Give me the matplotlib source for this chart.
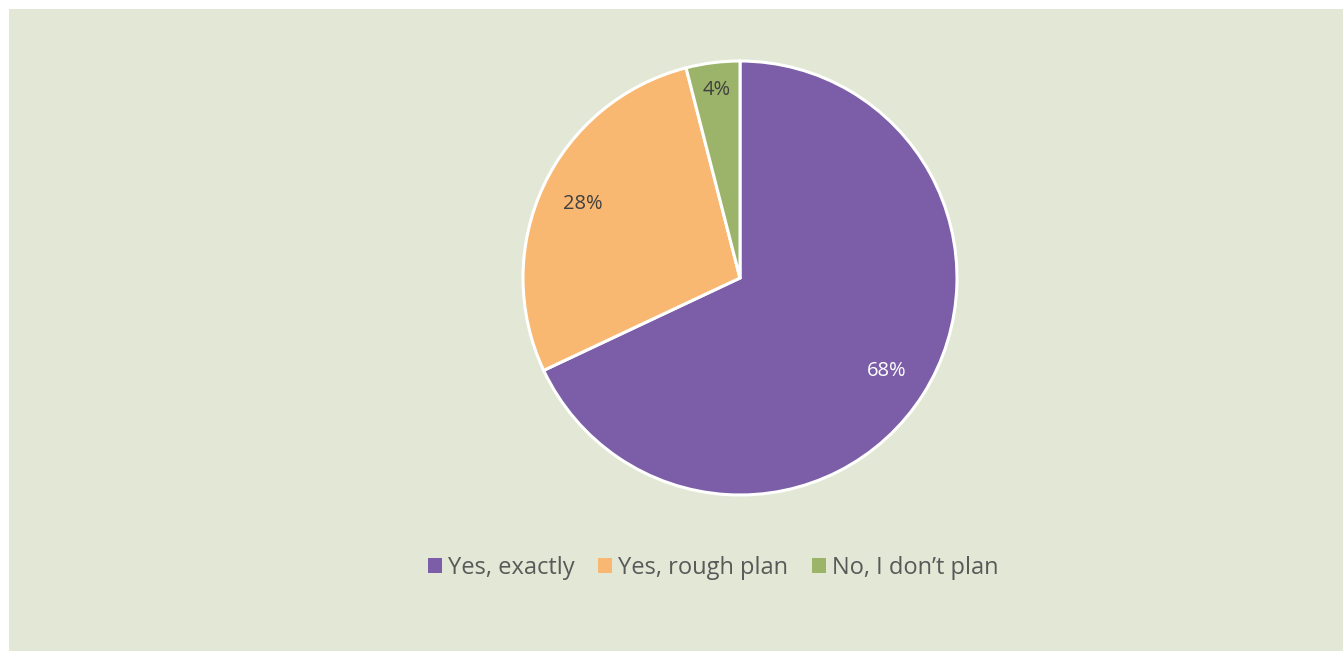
import matplotlib.pyplot as plt
from matplotlib.patches import Rectangle, Patch

# datos del grafico
etiquetas = ["Yes, exactly", "Yes, rough plan", "No, I don\u2019t plan"]
valores = [68, 28, 4]
colores = ["#7B5EA7", "#F9B872", "#9BB46A"]

W, H = 1343, 651
fig = plt.figure(figsize=(W / 100, H / 100), dpi=100, facecolor="white")

# fondo verde con margen blanco arriba y a la izquierda
fig.patches.append(Rectangle((9 / W, 0), 1 - 9 / W, 1 - 9 / H, transform=fig.transFigure,
                             facecolor="#E2E8D5", edgecolor="none", zorder=-10))

cx, cy, r = 740, 278, 217
k = 1.05
ax = fig.add_axes([(cx - r * k) / W, (H - cy - r * k) / H, 2 * r * k / W, 2 * r * k / H])
ax.set_facecolor("none")

wedges, textos, autotextos = ax.pie(valores, colors=colores, startangle=90, counterclock=False,
                                    autopct="%d%%", pctdistance=0.8,
                                    wedgeprops=dict(edgecolor="white", linewidth=2.2),
                                    textprops=dict(fontsize=14.5, color="#404040", family="Open Sans"))
autotextos[0].set_color("white")
# la etiqueta del 4% va un poco mas afuera
x, y = autotextos[2].get_position()
autotextos[2].set_position((x * 1.09, y * 1.09))

ax.set_xlim(-k, k)
ax.set_ylim(-k, k)
ax.set_aspect("equal")
ax.axis("off")

handles = [Patch(facecolor=c, edgecolor="none") for c in colores]
fig.legend(handles, etiquetas, loc="center", bbox_to_anchor=(713 / W, 1 - 568 / H), ncol=3,
           frameon=False, handlelength=0.6, handleheight=0.6, handletextpad=0.25,
           columnspacing=1.0, prop=dict(family="Open Sans", size=17), labelcolor="#595959")

fig.savefig("out.png", dpi=100, facecolor="white")
